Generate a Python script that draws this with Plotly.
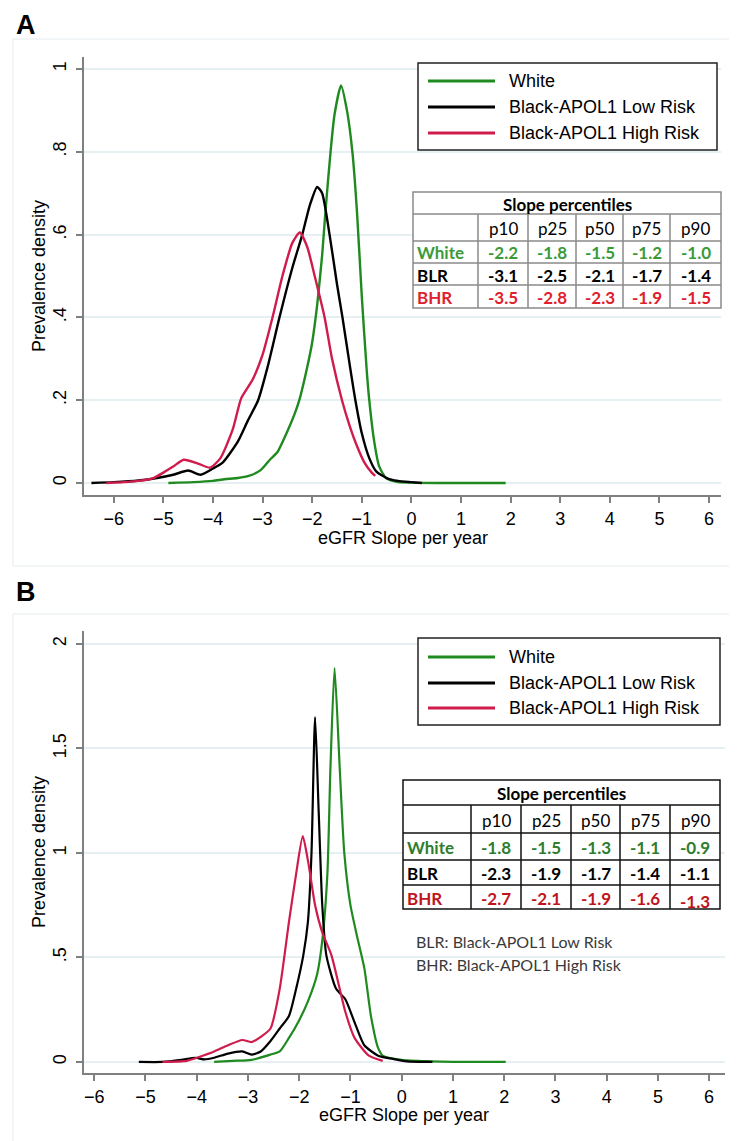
import plotly.graph_objects as go

W, H = 737, 1141

# ---------------- data: panel A (density curves) ----------------
a_white_x = [-4.9, -4.4, -4.0, -3.77, -3.5, -3.28, -3.04, -2.84, -2.70, -2.50, -2.36, -2.26, -2.1, -2.0, -1.9,
             -1.8, -1.73, -1.63, -1.55, -1.42, -1.3, -1.19, -1.1, -1.0, -0.9, -0.85, -0.75, -0.65, -0.51,
             -0.3, 0.0, 0.5, 1.0, 1.5, 1.9]
a_white_y = [0.0, 0.002, 0.005, 0.009, 0.012, 0.017, 0.031, 0.058, 0.075, 0.125, 0.165, 0.20, 0.28, 0.34, 0.43,
             0.55, 0.66, 0.80, 0.89, 0.96, 0.90, 0.80, 0.66, 0.45, 0.27, 0.20, 0.10, 0.04, 0.012,
             0.003, 0.001, 0.0, 0.0, 0.0, 0.0]

a_blr_x = [-6.45, -6.0, -5.5, -5.13, -4.8, -4.5, -4.25, -4.0, -3.8, -3.5, -3.3, -3.09, -2.9, -2.66, -2.4,
           -2.2, -2.05, -1.9, -1.8, -1.65, -1.5, -1.39, -1.25, -1.13, -1.0, -0.85, -0.71, -0.5, -0.27, 0.0, 0.21]
a_blr_y = [0.0, 0.002, 0.006, 0.012, 0.02, 0.03, 0.02, 0.035, 0.05, 0.10, 0.15, 0.20, 0.28, 0.40, 0.52,
           0.60, 0.67, 0.715, 0.70, 0.60, 0.48, 0.40, 0.29, 0.20, 0.12, 0.06, 0.028, 0.012, 0.005, 0.002, 0.0]

a_bhr_x = [-6.15, -5.8, -5.5, -5.2, -5.0, -4.8, -4.59, -4.3, -4.06, -3.85, -3.6, -3.43, -3.2, -3.0, -2.8,
           -2.6, -2.4, -2.25, -2.1, -1.95, -1.75, -1.6, -1.4, -1.25, -1.1, -0.95, -0.8, -0.73]
a_bhr_y = [0.0, 0.002, 0.005, 0.012, 0.025, 0.04, 0.056, 0.047, 0.037, 0.06, 0.13, 0.205, 0.25, 0.31, 0.40,
           0.50, 0.58, 0.605, 0.57, 0.50, 0.40, 0.30, 0.20, 0.14, 0.09, 0.05, 0.025, 0.017]

# ---------------- data: panel B (density curves) ----------------
b_white_x = [-3.66, -3.3, -2.93, -2.56, -2.38, -2.2, -2.01, -1.83, -1.65, -1.55, -1.45, -1.39, -1.31,
             -1.21, -1.12, -1.0, -0.87, -0.73, -0.6, -0.46, -0.37, 0.0, 0.55, 1.0, 1.5, 2.03]
b_white_y = [0.0, 0.005, 0.01, 0.035, 0.05, 0.115, 0.195, 0.29, 0.42, 0.58, 0.90, 1.41, 1.885,
             1.41, 1.00, 0.75, 0.60, 0.45, 0.22, 0.067, 0.03, 0.01, 0.003, 0.0, 0.0, 0.0]

b_blr_x = [-5.13, -4.67, -4.3, -4.03, -3.85, -3.66, -3.39, -3.11, -2.93, -2.75, -2.56, -2.38, -2.2, -2.06,
           -1.92, -1.83, -1.76, -1.69, -1.62, -1.55, -1.47, -1.28, -1.1, -0.92, -0.73, -0.46, -0.18, 0.1, 0.6]
b_blr_y = [0.0, 0.0, 0.01, 0.02, 0.012, 0.02, 0.04, 0.05, 0.035, 0.05, 0.10, 0.16, 0.22, 0.35,
           0.51, 0.67, 1.0, 1.65, 1.2, 0.75, 0.51, 0.35, 0.30, 0.19, 0.08, 0.03, 0.015, 0.003, 0.0]

b_bhr_x = [-4.67, -4.2, -3.94, -3.66, -3.39, -3.11, -2.93, -2.75, -2.56, -2.38, -2.2, -2.06, -1.93,
           -1.82, -1.69, -1.55, -1.37, -1.1, -0.92, -0.64, -0.37]
b_bhr_y = [0.0, 0.005, 0.025, 0.05, 0.08, 0.105, 0.095, 0.12, 0.16, 0.35, 0.67, 0.90, 1.08,
           0.95, 0.75, 0.62, 0.51, 0.24, 0.115, 0.03, 0.005]

# ---------------- tables / labels ----------------
series_names = ["White", "Black-APOL1 Low Risk", "Black-APOL1 High Risk"]
table_title = "Slope percentiles"
pct_labels = ["p10", "p25", "p50", "p75", "p90"]
row_labels = ["White", "BLR", "BHR"]
a_pct_white = ["-2.2", "-1.8", "-1.5", "-1.2", "-1.0"]
a_pct_blr = ["-3.1", "-2.5", "-2.1", "-1.7", "-1.4"]
a_pct_bhr = ["-3.5", "-2.8", "-2.3", "-1.9", "-1.5"]
b_pct_white = ["-1.8", "-1.5", "-1.3", "-1.1", "-0.9"]
b_pct_blr = ["-2.3", "-1.9", "-1.7", "-1.4", "-1.1"]
b_pct_bhr = ["-2.7", "-2.1", "-1.9", "-1.6", "-1.3"]
a_yticks = [0, 0.2, 0.4, 0.6, 0.8, 1]
a_yticktext = ["0", ".2", ".4", ".6", ".8", "1"]
b_yticks = [0, 0.5, 1, 1.5, 2]
b_yticktext = ["0", ".5", "1", "1.5", "2"]
xticks = list(range(-6, 7))
x_title = "eGFR Slope per year"
y_title = "Prevalence density"
footnotes = ["BLR: Black-APOL1 Low Risk", "BHR: Black-APOL1 High Risk"]

# ---------------- styling ----------------
GREEN = "#1f8a1f"
BLACK = "#000000"
RED = "#d01c4c"
line_colors = [GREEN, BLACK, RED]
FONT = "Liberation Sans, Arial, sans-serif"
TFONT = "Lato, Open Sans, sans-serif"


def px(x):
    return x / W


def py(y):
    return 1 - y / H


fig = go.Figure()
panel_data = [
    [(a_white_x, a_white_y), (a_blr_x, a_blr_y), (a_bhr_x, a_bhr_y)],
    [(b_white_x, b_white_y), (b_blr_x, b_blr_y), (b_bhr_x, b_bhr_y)],
]
for pi, curves in enumerate(panel_data):
    for si, (xs, ys) in enumerate(curves):
        fig.add_trace(go.Scatter(
            x=xs, y=ys, mode="lines", name=series_names[si],
            line=dict(color=line_colors[si], width=2.4 if pi == 0 else 2.2, shape="spline", smoothing=0.6),
            xaxis="x" if pi == 0 else "x2", yaxis="y" if pi == 0 else "y2",
            showlegend=False, hoverinfo="skip"))

axis_common = dict(showline=True, linecolor="#808080", linewidth=2, ticks="outside", ticklen=6,
                   tickwidth=1.5, tickcolor="#808080", zeroline=False,
                   tickfont=dict(family=FONT, size=18, color="#000"))

fig.update_layout(
    width=W, height=H, margin=dict(l=0, r=0, t=0, b=0),
    paper_bgcolor="white", plot_bgcolor="white",
    font=dict(family=FONT, size=18, color="#000"),
    xaxis=dict(domain=[px(76), px(713)], range=[-6.6, 6.24], tickvals=xticks, showgrid=False,
               anchor="y", **axis_common),
    yaxis=dict(domain=[py(487), py(49)], range=[-0.029, 1.029], tickvals=a_yticks, ticktext=a_yticktext,
               tickangle=-90, ticklabelstandoff=3, showgrid=True, gridcolor="#e6eff2", gridwidth=1.5,
               anchor="x", **axis_common),
    xaxis2=dict(domain=[px(76), px(717)], range=[-6.2, 6.31], tickvals=xticks, showgrid=False,
                anchor="y2", **axis_common),
    yaxis2=dict(domain=[py(1065), py(623)], range=[-0.053, 2.062], tickvals=b_yticks, ticktext=b_yticktext,
                tickangle=-90, ticklabelstandoff=3, showgrid=True, gridcolor="#e6eff2", gridwidth=1.5,
                anchor="x2", **axis_common),
)

shapes = []
annotations = []


def text(x, y, s, size=18, color="#000", family=FONT, xanchor="center", angle=0, bold=False):
    annotations.append(dict(x=px(x), y=py(y), xref="paper", yref="paper", text=("<b>%s</b>" % s) if bold else s,
                            showarrow=False, xanchor=xanchor, yanchor="middle", textangle=angle,
                            font=dict(size=size, color=color, family=family)))


def rect(x0, y0, x1, y1, color, width, fill=None):
    shapes.append(dict(type="rect", xref="paper", yref="paper", x0=px(x0), x1=px(x1), y0=py(y1), y1=py(y0),
                       line=dict(color=color, width=width), fillcolor=fill, layer="above"))


def hline(x0, x1, y, color, width):
    shapes.append(dict(type="line", xref="paper", yref="paper", x0=px(x0), x1=px(x1), y0=py(y), y1=py(y),
                       line=dict(color=color, width=width), layer="above"))


def vline(x, y0, y1, color, width):
    shapes.append(dict(type="line", xref="paper", yref="paper", x0=px(x), x1=px(x), y0=py(y0), y1=py(y1),
                       line=dict(color=color, width=width), layer="above"))


# panel frames and letters
rect(5, 31, 730, 558, "#e4ecef", 1)
rect(5, 606, 730, 1137, "#e4ecef", 1)
text(6, 17, "A", size=27, bold=True, xanchor="left")
text(6, 584, "B", size=27, bold=True, xanchor="left")

# axis titles
text(395, 530, x_title)
text(31, 268, y_title, angle=-90)
text(396, 1107, x_title)
text(31, 844, y_title, angle=-90)


def legend(x0, y0, x1, y1, ys):
    rect(x0, y0, x1, y1, "#222", 1.5, fill="white")
    for i, yy in enumerate(ys):
        hline(x0 + 10, x0 + 77, yy, line_colors[i], 3)
        text(x0 + 89, yy, series_names[i], size=18, xanchor="left")


legend(410, 55, 709, 142, [73, 99, 125])
legend(410, 630, 712, 717, [649, 675, 700])


def table(cols, rows, border, bw, colors, values, yoffs=None):
    rect(cols[0], rows[0], cols[-1], rows[-1], border, bw, fill="white")
    for r in rows[1:-1]:
        hline(cols[0], cols[-1], r, border, bw)
    for c in cols[1:-1]:
        vline(c, rows[1], rows[-1], border, bw)
    text((cols[0] + cols[-1]) / 2, (rows[0] + rows[1]) / 2 + 1, table_title, size=17, family=TFONT, bold=True)
    for j, lab in enumerate(pct_labels):
        text((cols[j + 1] + cols[j + 2]) / 2, (rows[1] + rows[2]) / 2 + 1, lab, size=17, family=TFONT)
    for i, lab in enumerate(row_labels):
        yc = (rows[i + 2] + rows[i + 3]) / 2 + 1
        text(cols[0] + 2, yc, lab, size=17, family=TFONT, bold=True, color=colors[i], xanchor="left")
        for j, v in enumerate(values[i]):
            dy = yoffs[i][j] if yoffs else 0
            text((cols[j + 1] + cols[j + 2]) / 2, yc + dy, v, size=17, family=TFONT, bold=True, color=colors[i])


table([405, 470, 520, 568, 615, 662, 713], [184, 206, 233, 255, 277, 300], "#8a8a8a", 1.5,
      ["#3a9a3a", "#000", "#e0202c"], [a_pct_white, a_pct_blr, a_pct_bhr])
table([395, 463, 513, 563, 612, 662, 712], [772, 797, 825, 852, 877, 901], "#111", 1.5,
      ["#2e7d2e", "#000", "#c0141c"], [b_pct_white, b_pct_blr, b_pct_bhr],
      yoffs=[[0] * 5, [0] * 5, [0, 0, 0, 0, 3]])

text(406, 933, footnotes[0], size=16, family=TFONT, color="#3a3a3a", xanchor="left")
text(406, 957, footnotes[1], size=16, family=TFONT, color="#3a3a3a", xanchor="left")

fig.update_layout(shapes=shapes, annotations=annotations)
fig.write_html("out.html")
